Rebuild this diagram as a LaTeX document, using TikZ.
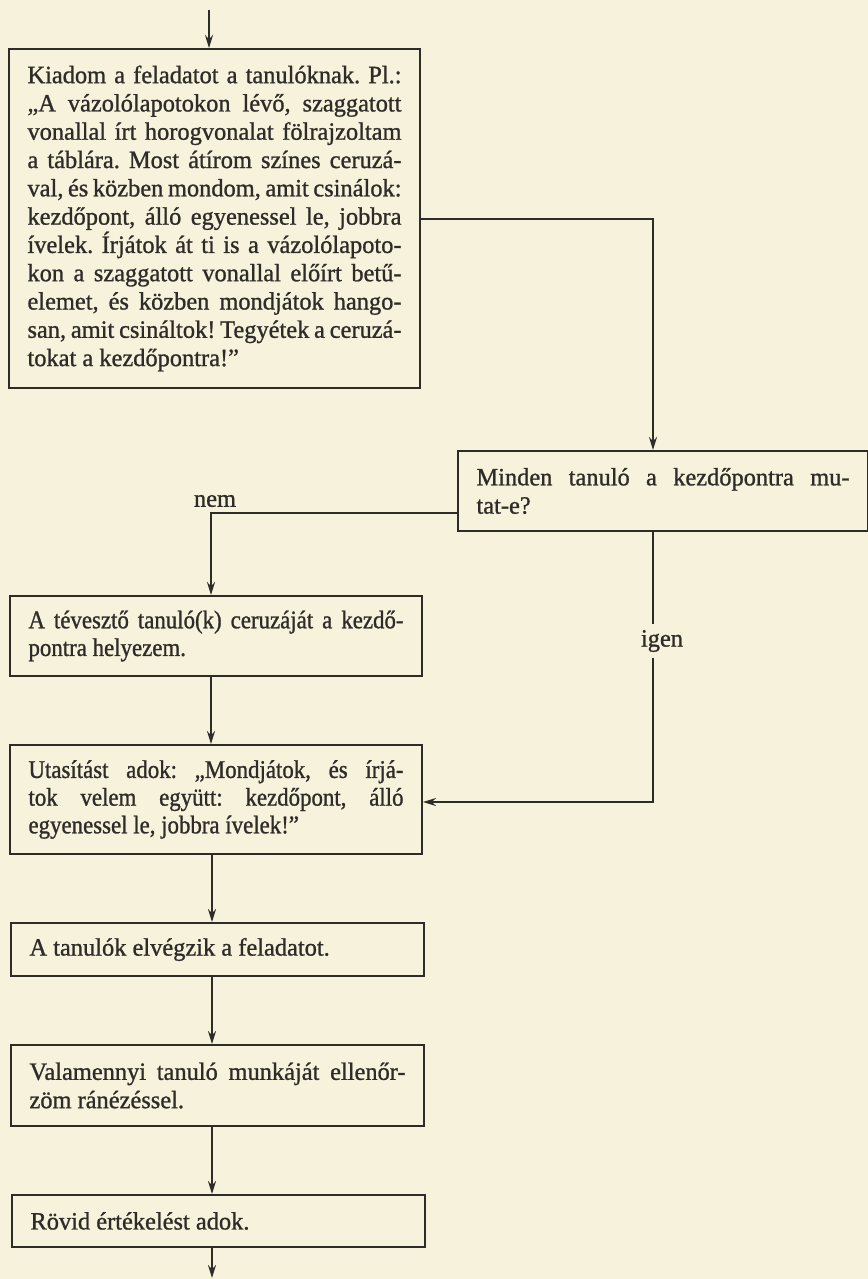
\documentclass[tikz,border=0pt]{standalone}
\usepackage{fontspec}
\setmainfont{Liberation Serif}
\newfontfamily\inkfont[FakeBold=1,FakeStretch=0.98]{Liberation Serif}
\newfontfamily\inkcond[FakeBold=1,FakeStretch=0.9]{Liberation Serif}
\usetikzlibrary{arrows.meta}
\definecolor{paper}{HTML}{F7F2DC}
\definecolor{ink}{HTML}{2E2C28}
\frenchspacing
\begin{document}
\begin{tikzpicture}[x=1bp,y=-1bp,
  box/.style={draw=ink, line width=2bp, anchor=north west, inner xsep=18.5bp,
    inner ysep=3bp, align=justify, text=ink,
    font=\inkfont\fontsize{25}{28.4}\selectfont},
  condbox/.style={box, font=\inkcond\fontsize{25.5}{27.8}\selectfont},
  wire/.style={draw=ink, line width=2bp},
  arr/.style={wire, -{Stealth[length=13bp,width=8bp]}},
  lbl/.style={text=ink, font=\inkfont\fontsize{25}{28.4}\selectfont, inner sep=0pt}]

% page
\fill[paper] (0,0) rectangle (868,1279);
\useasboundingbox (0,0) rectangle (868,1279);

% routing helpers
\coordinate (entry) at (209,10);
\coordinate (exit) at (212,1278);
\coordinate (fx) at (211,0);
\coordinate (jx) at (653,0);
\coordinate (nemrow) at (0,513);
\coordinate (igenrow) at (0,802);

% boxes
\node[box, text width=374bp, minimum height=339bp] (b1) at (8,48)
 {Kiadom a feladatot a tanulóknak. Pl.:\linebreak
  „A vázolólapotokon lévő, szaggatott\linebreak
  vonallal írt horogvonalat fölrajzoltam\linebreak
  a táblára. Most átírom színes ceruzá-\linebreak
  val, és közben mondom, amit csinálok:\linebreak
  kezdőpont, álló egyenessel le, jobbra\linebreak
  ívelek. Írjátok át ti is a vázolólapoto-\linebreak
  kon a szaggatott vonallal előírt betű-\linebreak
  elemet, és közben mondjátok hango-\linebreak
  san, amit csináltok! Tegyétek a ceruzá-\linebreak
  tokat a kezdőpontra!”};

\node[box, text width=373bp, minimum height=80bp] (dec) at (457,450)
 {Minden tanuló a kezdőpontra mu-\linebreak tat-e?};

\node[condbox, text width=375bp, minimum height=80bp] (b2) at (9,595)
 {A tévesztő tanuló(k) ceruzáját a kezdő-\linebreak pontra helyezem.};

\node[condbox, text width=375bp, minimum height=109bp] (b3) at (9,744)
 {Utasítást adok: „Mondjátok, és írjá-\linebreak
  tok velem együtt: kezdőpont, álló\linebreak
  egyenessel le, jobbra ívelek!”};

\node[box, text width=376bp, minimum height=53bp] (b4) at (10,922)
 {A tanulók elvégzik a feladatot.};

\node[box, text width=376bp, minimum height=81bp] (b5) at (10,1044)
 {Valamennyi tanuló munkáját ellenőr-\linebreak zöm ránézéssel.};

\node[box, text width=376bp, minimum height=52bp] (b6) at (11,1194)
 {Rövid értékelést adok.};

% labels
\node[lbl] (nem) at (215,501) {nem};
\node[lbl, inner ysep=6bp] (igen) at (662,641) {igen};

% connectors
\draw[arr] (entry) -- (b1.north -| entry);
\draw[arr] (b1.east) -| (dec.north -| jx);
\draw[arr] (dec.west |- nemrow) -| (b2.north -| fx);
\draw[wire] (dec.south -| jx) -- (igen.north -| jx);
\draw[arr] (igen.south -| jx) |- (b3.east |- igenrow);
\draw[arr] (b2.south -| fx) -- (b3.north -| fx);
\draw[arr] (b3.south -| exit) -- (b4.north -| exit);
\draw[arr] (b4.south -| exit) -- (b5.north -| exit);
\draw[arr] (b5.south -| exit) -- (b6.north -| exit);
\draw[arr] (b6.south -| exit) -- (exit);
\end{tikzpicture}
\end{document}
